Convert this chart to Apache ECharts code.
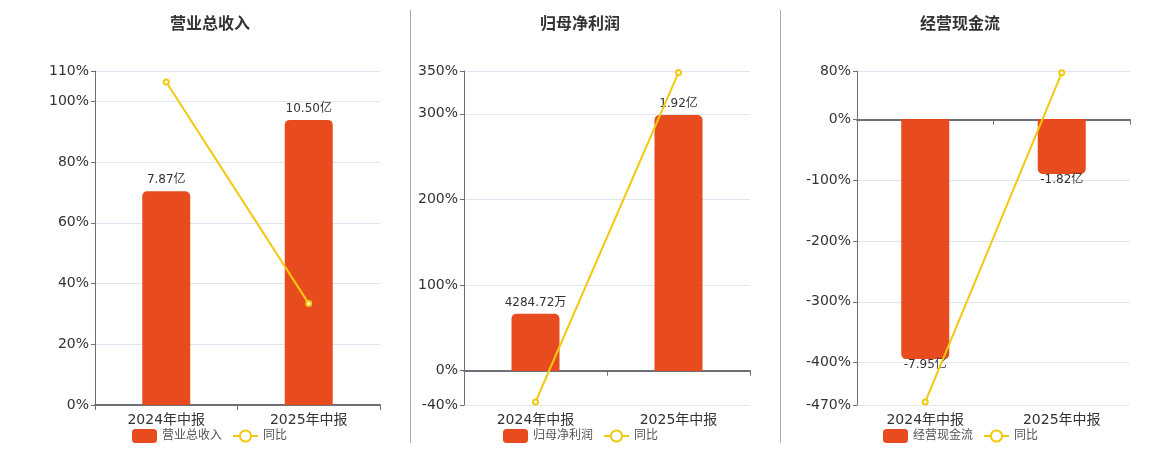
<!DOCTYPE html>
<html>
<head>
<meta charset="utf-8">
<title>业绩</title>
<script src="https://cdn.jsdelivr.net/npm/echarts@6/dist/echarts.min.js"></script>
<style>
  html, body { margin: 0; padding: 0; background: #fff; }
  #main { width: 1160px; height: 450px; }
</style>
</head>
<body>
<div id="main"></div>
<script>
// 数据
var categories = ['2024年中报', '2025年中报'];

var revenue = [7.87, 10.50];          // 亿
var revenueYoy = [106.4, 33.4];       // %
var revenueTicks = [0, 20, 40, 60, 80, 100, 110];

var netProfit = [0.428472, 1.92];     // 亿
var netProfitYoy = [-36.5, 348.2];
var netProfitTicks = [-40, 0, 100, 200, 300, 350];

var cashFlow = [-7.95, -1.82];        // 亿
var cashFlowYoy = [-465, 77.1];
var cashFlowTicks = [-470, -400, -300, -200, -100, 0, 80];

var titles = ['营业总收入', '归母净利润', '经营现金流'];

var BAR_COLOR = '#e84c1e', LINE_COLOR = '#f2c811';
var FONT = 'DejaVu Sans, Noto Sans CJK SC, sans-serif';

// 三个面板的位置
var panels = [
  {name: titles[0], bars: revenue, yoy: revenueYoy, ticks: revenueTicks,
   left: 95, width: 285, titleLeft: 165, legendLeft: 132, barRange: [0, 12.3]},
  {name: titles[1], bars: netProfit, yoy: netProfitYoy, ticks: netProfitTicks,
   left: 464, width: 286, titleLeft: 535, legendLeft: 503, barRange: [-0.255, 2.25]},
  {name: titles[2], bars: cashFlow, yoy: cashFlowYoy, ticks: cashFlowTicks,
   left: 857, width: 273, titleLeft: 915, legendLeft: 883, barRange: [-9.47, 1.59]}
];

function fmtAmount(v){
  if (Math.abs(v) < 1) return (v * 10000).toFixed(2) + '万';
  return v.toFixed(2) + '亿';
}

var option = {
  animation: false,
  backgroundColor: '#fff',
  textStyle: {fontFamily: FONT},
  title: [], legend: [], grid: [], xAxis: [], yAxis: [], series: [],
  graphic: [
    {type: 'line', shape: {x1: 410.5, y1: 10, x2: 410.5, y2: 443}, style: {stroke: '#aaa', lineWidth: 1}},
    {type: 'line', shape: {x1: 780.5, y1: 10, x2: 780.5, y2: 443}, style: {stroke: '#aaa', lineWidth: 1}}
  ]
};

panels.forEach(function(p, i){
  var ticks = p.ticks;
  option.title.push({
    text: p.name, left: p.titleLeft, top: 12,
    textStyle: {fontSize: 16, fontWeight: 'bold', color: '#333', fontFamily: FONT}
  });
  option.legend.push({
    data: [p.name, '同比'], left: p.legendLeft, top: 429, padding: 0,
    itemWidth: 25, itemHeight: 14, itemGap: 10,
    textStyle: {fontSize: 12, color: '#555', fontFamily: FONT}
  });
  option.grid.push({left: p.left, width: p.width, top: 71, bottom: 45});
  option.xAxis.push({
    type: 'category', gridIndex: i, data: categories,
    axisLine: {onZero: true, onZeroAxisIndex: i * 2, lineStyle: {color: '#6e7079', width: 2}},
    axisTick: {show: true, lineStyle: {color: '#6e7079'}},
    axisLabel: {fontSize: 14, color: '#333', margin: 8, fontFamily: FONT}
  });
  // 同比轴（可见）
  option.yAxis.push({
    type: 'value', gridIndex: i, min: ticks[0], max: ticks[ticks.length - 1],
    axisLine: {show: true, lineStyle: {color: '#6e7079'}},
    axisTick: {show: true, length: 4, customValues: ticks},
    axisLabel: {fontSize: 14, color: '#333', margin: 6, customValues: ticks,
      formatter: function(v){ return v + '%'; }, fontFamily: FONT},
    splitLine: {show: true, lineStyle: {color: '#e0e6f1'}}
  });
  // 金额轴（隐藏）
  option.yAxis.push({
    type: 'value', gridIndex: i, show: false,
    min: p.barRange[0], max: p.barRange[1], splitLine: {show: false}
  });

  option.series.push({
    name: p.name, type: 'bar', xAxisIndex: i, yAxisIndex: i * 2 + 1,
    barWidth: 48,
    itemStyle: {color: BAR_COLOR},
    data: p.bars.map(function(v){
      var neg = v < 0;
      return {
        value: v,
        itemStyle: {borderRadius: neg ? [0, 0, 5, 5] : [5, 5, 0, 0]},
        label: {show: true, position: neg ? 'bottom' : 'top', distance: neg ? 0 : 5,
          fontSize: 12, color: '#333', fontFamily: FONT, formatter: function(d){ return fmtAmount(d.value); }}
      };
    })
  });
  option.series.push({
    name: '同比', type: 'line', xAxisIndex: i, yAxisIndex: i * 2,
    symbol: 'emptyCircle', symbolSize: 5,
    lineStyle: {color: LINE_COLOR, width: 2},
    itemStyle: {color: LINE_COLOR, borderWidth: 1.5},
    data: p.yoy
  });
});

var chart = echarts.init(document.getElementById('main'));
chart.setOption(option);
window.onresize = chart.resize;
</script>
</body>
</html>
